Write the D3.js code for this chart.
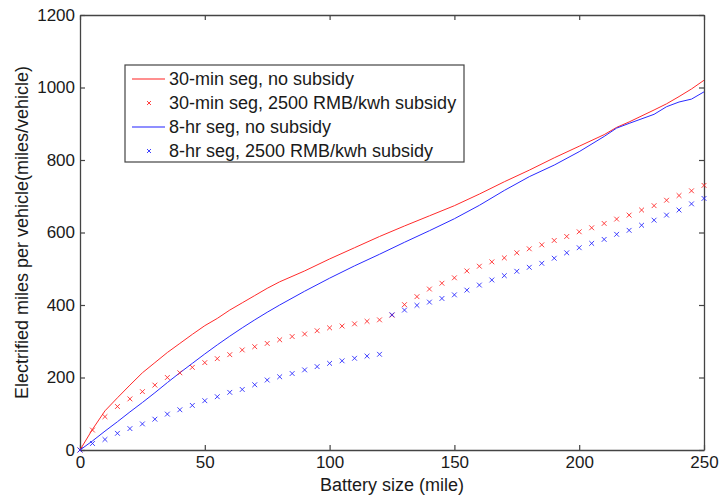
<!DOCTYPE html>
<html>
<head>
<meta charset="utf-8">
<script src="https://cdn.jsdelivr.net/npm/d3@7"></script>
<style>
  body { margin: 0; background: #fff; }
  text { font-family: "Liberation Sans", Arial, sans-serif; fill: #1a1a1a; }
</style>
</head>
<body>
<div id="chart"></div>
<script>
// curves (no subsidy), sampled along battery size
const lineX = [0, 5, 10, 15, 20, 25, 30, 35, 40, 45, 50, 55, 60, 65, 70, 75, 80,
  90, 100, 110, 120, 130, 140, 150, 160, 170, 180, 190, 200, 210, 215, 220, 230, 235, 240, 245, 250];
const red30min = [0, 57, 108, 144, 179, 213, 241, 269, 294, 319, 343, 363, 386, 406, 426, 446, 464,
  494, 527, 558, 589, 618, 646, 674, 706, 740, 772, 806, 838, 870, 890, 905, 938, 955, 975, 996, 1020];
const blue8hr = [0, 25, 52, 78, 105, 131, 158, 186, 213, 239, 265, 290, 314, 337, 359, 380, 400,
  438, 474, 508, 540, 573, 605, 638, 675, 716, 754, 786, 823, 865, 888, 901, 926, 947, 960, 968, 988];

// markers (2500 RMB/kwh subsidy), every 5 miles
const markX = d3.range(0, 251, 5);
const red30minSub = [0, 55, 92, 120, 141, 161, 179, 200, 213, 228, 241, 252, 263, 276, 285, 294, 304,
  313, 320, 329, 337, 342, 348, 355, 359, 372, 401, 423, 444, 460, 475, 494, 507, 519, 530, 544,
  555, 566, 578, 589, 602, 613, 625, 637, 648, 662, 674, 689, 702, 715, 730];
const blue8hrSub = [0, 18, 29, 46, 59, 72, 85, 99, 111, 123, 136, 147, 159, 167, 180, 193, 202,
  211, 221, 230, 239, 246, 253, 259, 264, 373, 386, 399, 408, 418, 428, 441, 455, 469, 481, 493,
  504, 515, 529, 544, 558, 570, 581, 595, 606, 620, 634, 648, 662, 679, 694];

const xTicks = [0, 50, 100, 150, 200, 250];
const yTicks = [0, 200, 400, 600, 800, 1000, 1200];

const legendItems = [
  { label: "30-min seg, no subsidy", color: "#ff2020", type: "line" },
  { label: "30-min seg, 2500 RMB/kwh subsidy", color: "#ff2020", type: "mark" },
  { label: "8-hr seg, no subsidy", color: "#2020ff", type: "line" },
  { label: "8-hr seg, 2500 RMB/kwh subsidy", color: "#2020ff", type: "mark" },
];

const W = 721, H = 500;
const margin = { top: 15, right: 17, bottom: 50, left: 80 };
const width = W - margin.left - margin.right;
const height = H - margin.top - margin.bottom;

const svg = d3.select("#chart").append("svg")
  .attr("width", W).attr("height", H);
const g = svg.append("g")
  .attr("transform", `translate(${margin.left},${margin.top})`);

const x = d3.scaleLinear().domain([0, 250]).range([0, width]);
const y = d3.scaleLinear().domain([0, 1200]).range([height, 0]);

// axes, MATLAB style: box with inward ticks
const axisColor = "#444";
function styleAxis(sel) {
  sel.selectAll("path.domain").attr("stroke", axisColor).attr("stroke-width", 1.3);
  sel.selectAll(".tick line").attr("stroke", axisColor).attr("stroke-width", 1.2);
  sel.selectAll(".tick text").style("font-size", "17px").attr("fill", "#1a1a1a");
}
g.append("g").attr("transform", `translate(0,${height})`)
  .call(d3.axisBottom(x).tickValues(xTicks).tickSize(-5).tickSizeOuter(0).tickPadding(6)
    .tickFormat(d3.format("d")))
  .call(styleAxis);
g.append("g")
  .call(d3.axisLeft(y).tickValues(yTicks).tickSize(-5).tickSizeOuter(0).tickPadding(5)
    .tickFormat(d3.format("d")))
  .call(styleAxis);
g.append("g")
  .call(d3.axisTop(x).tickValues(xTicks).tickSize(-5).tickSizeOuter(0).tickFormat(""))
  .call(styleAxis);
g.append("g").attr("transform", `translate(${width},0)`)
  .call(d3.axisRight(y).tickValues(yTicks).tickSize(-5).tickSizeOuter(0).tickFormat(""))
  .call(styleAxis);

// lines
const line = d3.line().x((d, i) => x(lineX[i])).y(d => y(d));
g.append("path").datum(red30min)
  .attr("fill", "none").attr("stroke", "#ff2a2a").attr("stroke-width", 1)
  .attr("d", line);
g.append("path").datum(blue8hr)
  .attr("fill", "none").attr("stroke", "#2a2aff").attr("stroke-width", 1)
  .attr("d", line);

// x markers
const ms = 2.4;
function crossPath(cx, cy, s) {
  return `M${cx - s},${cy - s}L${cx + s},${cy + s}M${cx - s},${cy + s}L${cx + s},${cy - s}`;
}
function addMarks(vals, color) {
  g.append("g").selectAll("path").data(vals).enter().append("path")
    .attr("d", (d, i) => crossPath(x(markX[i]), y(d), ms))
    .attr("stroke", color).attr("stroke-width", 1).attr("fill", "none")
    .attr("opacity", 0.85);
}
addMarks(red30minSub, "#ff2020");
addMarks(blue8hrSub, "#2020ff");

// axis titles
svg.append("text")
  .attr("x", margin.left + width / 2).attr("y", 491)
  .attr("text-anchor", "middle").style("font-size", "18px")
  .text("Battery size (mile)");
svg.append("text")
  .attr("transform", `translate(28,${margin.top + height / 2}) rotate(-90)`)
  .attr("text-anchor", "middle").style("font-size", "18px")
  .text("Electrified miles per vehicle(miles/vehicle)");

// legend
const legend = svg.append("g").attr("transform", "translate(125,65)");
legend.append("rect")
  .attr("width", 339).attr("height", 97)
  .attr("fill", "#fff").attr("stroke", "#444").attr("stroke-width", 1.2);
const row = legend.selectAll(".legendRow").data(legendItems).enter()
  .append("g").attr("class", "legendRow")
  .attr("transform", (d, i) => `translate(0,${14 + i * 24})`);
row.filter(d => d.type === "line").append("line")
  .attr("x1", 7).attr("x2", 40).attr("y1", 0).attr("y2", 0)
  .attr("stroke", d => d.color).attr("stroke-width", 1.1);
row.filter(d => d.type === "mark").append("path")
  .attr("d", crossPath(24, 0, 2))
  .attr("stroke", d => d.color).attr("stroke-width", 1).attr("opacity", 0.85);
row.append("text")
  .attr("x", 44).attr("dy", "0.35em").style("font-size", "18px")
  .text(d => d.label);
</script>
</body>
</html>
